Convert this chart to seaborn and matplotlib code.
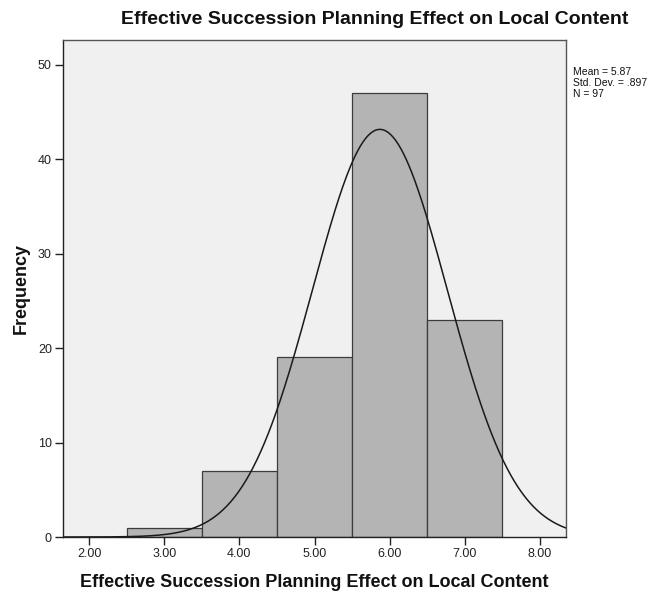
import numpy as np
import pandas as pd
import matplotlib
matplotlib.use("Agg")
import matplotlib.pyplot as plt
import seaborn as sns

# Data
bin_centers = [3.0, 4.0, 5.0, 6.0, 7.0]
counts = [1, 7, 19, 47, 23]
bin_edges = [2.5, 3.5, 4.5, 5.5, 6.5, 7.5]
mean_val = 5.87
sd_val = 0.897
n_val = 97
x_ticks = [2, 3, 4, 5, 6, 7, 8]
x_tick_labels = ["2.00", "3.00", "4.00", "5.00", "6.00", "7.00", "8.00"]
y_ticks = [0, 10, 20, 30, 40, 50]

title = "Effective Succession Planning Effect on Local Content"
xlabel = "Effective Succession Planning Effect on Local Content"
ylabel = "Frequency"

sns.set_style("white")
plt.rcParams['font.family'] = ['Liberation Sans', 'DejaVu Sans']

fig = plt.figure(figsize=(6.69, 5.95), dpi=100)
ax = fig.add_axes([63/669, 1 - 537/595, (566-63)/669, (537-40)/595])
ax.set_facecolor("#f0f0f0")

df = pd.DataFrame({"value": bin_centers, "count": counts})
sns.histplot(data=df, x="value", weights="count", bins=bin_edges, ax=ax,
             color="#b4b4b4", edgecolor="#3c3c3c", linewidth=0.9, alpha=1.0, zorder=2)

xs = np.linspace(1.65, 8.35, 400)
binw = 1.0
ys = n_val * binw / (sd_val * np.sqrt(2 * np.pi)) * np.exp(-0.5 * ((xs - mean_val) / sd_val) ** 2)
sns.lineplot(x=xs, y=ys, ax=ax, color="#1a1a1a", linewidth=1.1, zorder=3)

ax.set_xlim(1.653, 8.347)
ax.set_ylim(0, 52.6)
ax.set_xticks(x_ticks)
ax.set_xticklabels(x_tick_labels)
ax.set_yticks(y_ticks)
ax.tick_params(axis="both", direction="out", length=6, width=1, color="#222222",
               labelsize=9, labelcolor="#222222", pad=2, bottom=True, left=True)

for s in ["left", "bottom"]:
    ax.spines[s].set_color("#222222")
    ax.spines[s].set_linewidth(1.0)
for s in ["top", "right"]:
    ax.spines[s].set_color("#555555")
    ax.spines[s].set_linewidth(1.0)

ax.set_xlabel(xlabel, fontsize=13, fontweight="bold", labelpad=10, color="#111111")
ax.set_ylabel(ylabel, fontsize=13, fontweight="bold", labelpad=6, color="#111111")

fig.text(375/669, 1 - 20/595, title, ha="center", va="center", fontsize=14,
         fontweight="bold", color="#111111")

fig.text(573/669, 1 - 67/595,
         f"Mean = {mean_val:.2f}\nStd. Dev. = .{int(round(sd_val*1000))}\nN = {n_val}",
         ha="left", va="top", fontsize=7.5, color="#111111", linespacing=1.1)

fig.savefig("out.png", dpi=100)
